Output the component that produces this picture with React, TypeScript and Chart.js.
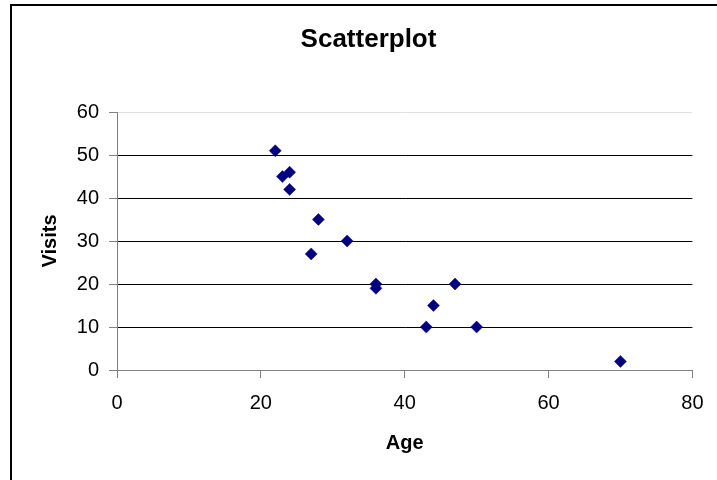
import React, { useEffect, useRef } from "react";
import { Chart, registerables } from "chart.js";

Chart.register(...registerables);

const chartTitle = "Scatterplot";
const xAxisTitle = "Age";
const yAxisTitle = "Visits";
const ages = [22, 23, 24, 24, 28, 27, 32, 36, 36, 47, 44, 43, 50, 70];
const visits = [51, 45, 46, 42, 35, 27, 30, 20, 19, 20, 15, 10, 10, 2];
const xTicks = [0, 20, 40, 60, 80];
const yTicks = [0, 10, 20, 30, 40, 50, 60];

const FONT = "'Liberation Sans', Arial, sans-serif";

const framePlugin = {
  id: "frame",
  afterDraw(chart: any) {
    const ctx = chart.ctx;
    ctx.save();
    ctx.strokeStyle = "#000";
    ctx.lineWidth = 2;
    ctx.beginPath();
    ctx.moveTo(11, 480);
    ctx.lineTo(11, 5);
    ctx.lineTo(717, 5);
    ctx.stroke();
    ctx.restore();
  },
};

export default function App() {
  const ref = useRef<HTMLCanvasElement | null>(null);
  useEffect(() => {
    if (!ref.current) return;
    const points = ages.map((a, i) => ({ x: a, y: visits[i] }));
    const chart = new Chart(ref.current, {
      type: "scatter",
      data: {
        datasets: [
          {
            data: points,
            pointStyle: "rectRot",
            pointRadius: 6,
            pointBorderWidth: 0.5,
            backgroundColor: "#000080",
            borderColor: "#000080",
          },
        ],
      },
      plugins: [framePlugin],
      options: {
        animation: false,
        responsive: false,
        devicePixelRatio: 1,
        layout: { padding: { left: 20, right: 0, top: 0, bottom: 0 } },
        plugins: {
          legend: { display: false },
          tooltip: { enabled: false },
          title: {
            display: true,
            text: chartTitle,
            color: "#000",
            font: { family: FONT, size: 26, weight: "bold" },
            padding: { top: 24.4, bottom: 56.4 },
          },
        },
        scales: {
          x: {
            type: "linear",
            position: "bottom",
            min: 0,
            max: 80,
            afterBuildTicks: (s: any) => {
              s.ticks = xTicks.map((v) => ({ value: v }));
            },
            afterFit: (s: any) => {
              s.height = 110;
            },
            grid: {
              drawOnChartArea: false,
              drawTicks: true,
              tickLength: 8,
              color: "#808080",
              tickColor: "#808080",
            },
            border: { display: true, color: "#808080", width: 1 },
            ticks: {
              color: "#000",
              padding: 13.5,
              font: { family: FONT, size: 20 },
            },
            title: {
              display: true,
              text: xAxisTitle,
              color: "#000",
              font: { family: FONT, size: 20, weight: "bold" },
              padding: { top: 0, bottom: 25 },
            },
          },
          y: {
            type: "linear",
            position: "left",
            min: 0,
            max: 60,
            afterBuildTicks: (s: any) => {
              s.ticks = yTicks.map((v) => ({ value: v }));
            },
            afterFit: (s: any) => {
              s.width = 97;
            },
            grid: {
              drawOnChartArea: true,
              drawTicks: true,
              tickLength: 8,
              color: (c: any) => {
                const v = c.tick ? c.tick.value : null;
                if (v === 60) return "#e0e0e0";
                if (v === 0) return "#808080";
                return "#000";
              },
              tickColor: "#808080",
            },
            border: { display: true, color: "#808080", width: 1 },
            ticks: {
              color: "#000",
              padding: 10,
              font: { family: FONT, size: 20 },
            },
            title: {
              display: true,
              text: yAxisTitle,
              color: "#000",
              font: { family: FONT, size: 20, weight: "bold" },
              padding: { top: 18, bottom: 0 },
            },
          },
          yRight: {
            type: "linear",
            position: "right",
            display: true,
            afterFit: (s: any) => {
              s.width = 24;
            },
            grid: { display: false },
            ticks: { display: false },
            border: { display: false },
          },
        },
      } as any,
    });
    return () => chart.destroy();
  }, []);

  return (
    <div style={{ position: "absolute", left: 0, top: 0, width: 717, height: 480, background: "#fff" }}>
      <canvas ref={ref} width={717} height={480} style={{ width: 717, height: 480, display: "block" }} />
    </div>
  );
}
